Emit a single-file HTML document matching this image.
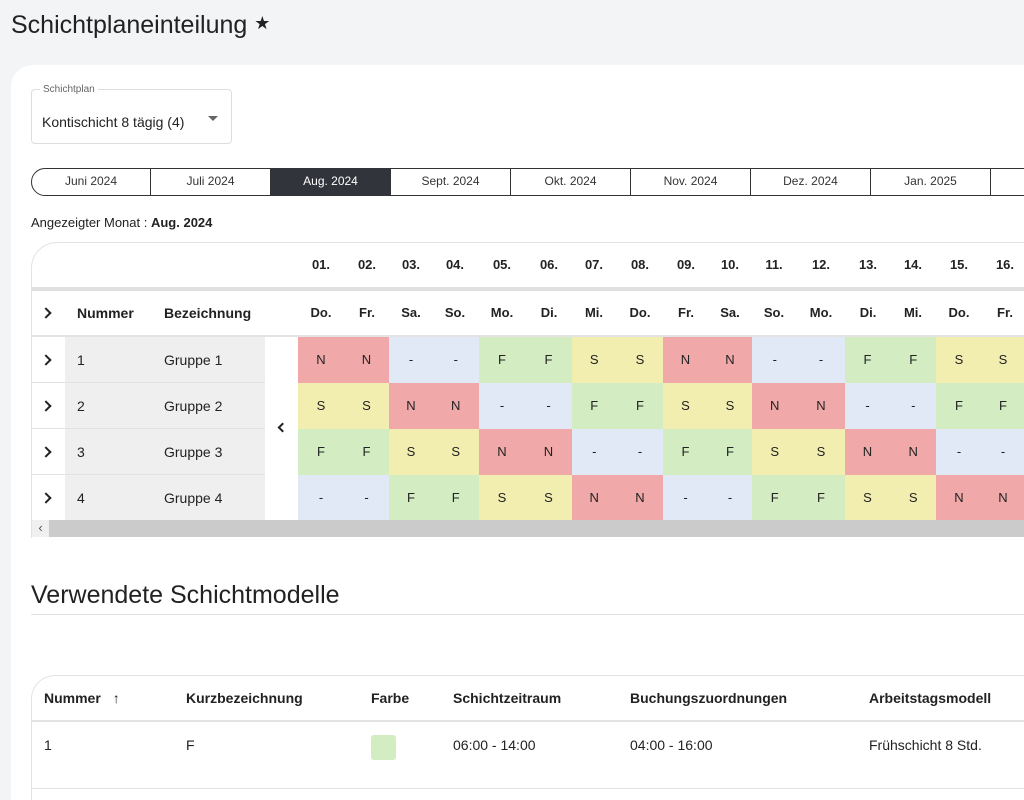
<!DOCTYPE html>
<html><head><meta charset="utf-8">
<style>
*{box-sizing:border-box;margin:0;padding:0}
html,body{width:1024px;height:800px;overflow:hidden}
body{background:#f3f4f6;font-family:"Liberation Sans",sans-serif;color:#222;position:relative}
.abs{position:absolute}
#clip{position:absolute;left:0;top:0;width:1024px;height:800px;overflow:hidden}
.card{position:absolute;left:11px;top:65px;width:1013px;height:735px;background:#fff;border-top-left-radius:22px}
.tab{position:absolute;top:168px;height:28px;width:120px;border:1.5px solid #333;border-left:none;font-size:12px;text-align:center;line-height:25px;color:#333;background:#fff}
.b{font-weight:bold}
.cell{position:absolute;text-align:center;font-size:13px}
.chev{position:absolute;width:8px;height:8px;border-right:2px solid #222;border-top:2px solid #222;transform:rotate(45deg)}
</style></head><body><div id="clip">
<div class="abs" style="left:11px;top:11px;font-size:25px;color:#222">Schichtplaneinteilung <span style="font-size:18px;vertical-align:4px">★</span></div>
<div class="card"></div>
<div class="abs" style="left:31px;top:89px;width:201px;height:55px;border:1px solid #ddd;border-radius:4px">
 <div class="abs" style="left:8px;top:-6px;background:#fff;padding:0 3px;font-size:10px;color:#666">Schichtplan</div>
 <div class="abs" style="left:10px;top:24px;font-size:14px;color:#222">Kontischicht 8 tägig (4)</div>
 <div class="abs" style="left:176px;top:26px;width:0;height:0;border-left:5px solid transparent;border-right:5px solid transparent;border-top:5px solid #666"></div>
</div>
<div id="tabs"></div>
<div class="abs" style="left:31px;top:215px;font-size:13px">Angezeigter Monat : <b>Aug. 2024</b></div>
<div class="abs" style="left:31px;top:242px;width:993px;height:296px;border:1px solid #e3e3e3;border-right:none;border-top-left-radius:26px;border-bottom:none"></div>
<div class="abs" style="left:32px;top:287px;width:992px;height:4px;background:#e0e0e0"></div>
<div class="abs" style="left:32px;top:335px;width:992px;height:2px;background:#e3e3e3"></div>
<div class="abs" style="left:65px;top:337px;width:200px;height:183px;background:#efefef"></div>
<div class="chev" style="left:42px;top:309px"></div>
<div class="abs b" style="left:77px;top:305px;font-size:14px">Nummer</div>
<div class="abs b" style="left:164px;top:305px;font-size:14px">Bezeichnung</div>
<div class="chev" style="left:279px;top:424px;transform:rotate(-135deg);width:7px;height:7px"></div>
<div id="grid"></div>
<div class="abs" style="left:32px;top:520px;width:992px;height:17px;background:#cbcbcb"><div style="width:17px;height:17px;background:#f0f0f0;font-size:13px;text-align:center;line-height:15px;color:#555">‹</div></div>
<div class="abs" style="left:31px;top:581px;font-size:25px;color:#222">Verwendete Schichtmodelle</div>
<div class="abs" style="left:31px;top:614px;width:993px;height:1px;background:#e3e3e3"></div>
<div class="abs" style="left:31px;top:675px;width:993px;height:125px;border:1px solid #e3e3e3;border-right:none;border-bottom:none;border-top-left-radius:24px"></div>
<div class="abs" style="left:32px;top:720px;width:992px;height:2px;background:#e3e3e3"></div>
<div class="abs" style="left:32px;top:788px;width:992px;height:1px;background:#e3e3e3"></div>
<div class="abs b" style="left:44px;top:690px;font-size:14px">Nummer <span style="font-weight:normal;margin-left:8px">↑</span></div>
<div class="abs b" style="left:186px;top:690px;font-size:14px">Kurzbezeichnung</div>
<div class="abs b" style="left:371px;top:690px;font-size:14px">Farbe</div>
<div class="abs b" style="left:453px;top:690px;font-size:14px">Schichtzeitraum</div>
<div class="abs b" style="left:630px;top:690px;font-size:14px">Buchungszuordnungen</div>
<div class="abs b" style="left:869px;top:690px;font-size:14px">Arbeitstagsmodell</div>
<div class="abs" style="left:44px;top:737px;font-size:14px">1</div>
<div class="abs" style="left:186px;top:737px;font-size:14px">F</div>
<div class="abs" style="left:371px;top:735px;width:25px;height:25px;background:#d3ecc1;border-radius:3px"></div>
<div class="abs" style="left:453px;top:737px;font-size:14px">06:00 - 14:00</div>
<div class="abs" style="left:630px;top:737px;font-size:14px">04:00 - 16:00</div>
<div class="abs" style="left:869px;top:737px;font-size:14px">Frühschicht 8 Std.</div>
</div>
<script>
const months=["Juni 2024","Juli 2024","Aug. 2024","Sept. 2024","Okt. 2024","Nov. 2024","Dez. 2024","Jan. 2025",""];
const days=["01.","02.","03.","04.","05.","06.","07.","08.","09.","10.","11.","12.","13.","14.","15.","16."];
const weekdays=["Do.","Fr.","Sa.","So.","Mo.","Di.","Mi.","Do.","Fr.","Sa.","So.","Mo.","Di.","Mi.","Do.","Fr."];
const groups=["Gruppe 1","Gruppe 2","Gruppe 3","Gruppe 4"];
const shifts=[
"NN--FFSSNN--FFSS",
"SSNN--FFSSNN--FF",
"FFSSNN--FFSSNN--",
"--FFSSNN--FFSSNN"];
const colors={N:"#f0a8a8","-":"#e1e8f6",F:"#d3ecc1",S:"#f2eeb0"};
const centers=[321,367,411,455,502,549,594,640,686,730,774,821,868,913,959,1005];
const clip=document.getElementById('clip');
const tabs=document.getElementById('tabs');
months.forEach((m,i)=>{const d=document.createElement('div');d.className='tab';


const left=31+i*120;d.style.left=left+'px';d.textContent=m;
if(left+120>1024)d.style.width=(1024-left)+'px',d.style.borderRight='none';
if(i===0){d.style.borderLeft='1.5px solid #333';d.style.borderRadius='14px 0 0 14px'}
if(m==="Aug. 2024"){d.style.background='#31343a';d.style.color='#fff';d.style.borderColor='#31343a'}
tabs.appendChild(d)});
const g=document.getElementById('grid');
const n=centers.length;
const bnd=i=>i===0?298:(i>=n?Math.min(1024,2*centers[n-1]-(centers[n-2]+centers[n-1])/2):(centers[i-1]+centers[i])/2);
days.forEach((dd,i)=>{
 const a=document.createElement('div');a.className='cell b';a.style.left=(centers[i]-18)+'px';a.style.width='36px';a.style.top='257px';a.textContent=dd;
 
 g.appendChild(a);
 const w=document.createElement('div');w.className='cell b';w.style.left=(centers[i]-18)+'px';w.style.width='36px';w.style.top='305px';w.textContent=weekdays[i];
 
 g.appendChild(w);
});
groups.forEach((gr,r)=>{
 const top=337+r*46;
 const ch=document.createElement('div');ch.className='chev';ch.style.left='42px';ch.style.top=(top+19)+'px';
 
 g.appendChild(ch);
 const nn=document.createElement('div');nn.className='abs';nn.style.left='77px';nn.style.top=(top+15)+'px';nn.style.fontSize='14px';nn.textContent=String(r+1);
 
 g.appendChild(nn);
 const nm=document.createElement('div');nm.className='abs';nm.style.left='164px';nm.style.top=(top+15)+'px';nm.style.fontSize='14px';nm.textContent=gr;
 
 g.appendChild(nm);
 if(r>0){const l=document.createElement('div');l.className='abs';l.style.cssText=`left:32px;top:${top-1}px;width:233px;height:1px;background:#e3e3e3`;g.appendChild(l);}
 [...shifts[r]].forEach((s,i)=>{
  const c=document.createElement('div');c.className='cell';
  
  
  const x0=bnd(i),x1=bnd(i+1);
  c.style.left=x0+'px';c.style.width=(x1-x0)+'px';c.style.top=top+'px';c.style.height='46px';c.style.lineHeight='46px';
  c.style.background=colors[s];c.textContent=s;g.appendChild(c);
 });
});
</script>
</body></html>
